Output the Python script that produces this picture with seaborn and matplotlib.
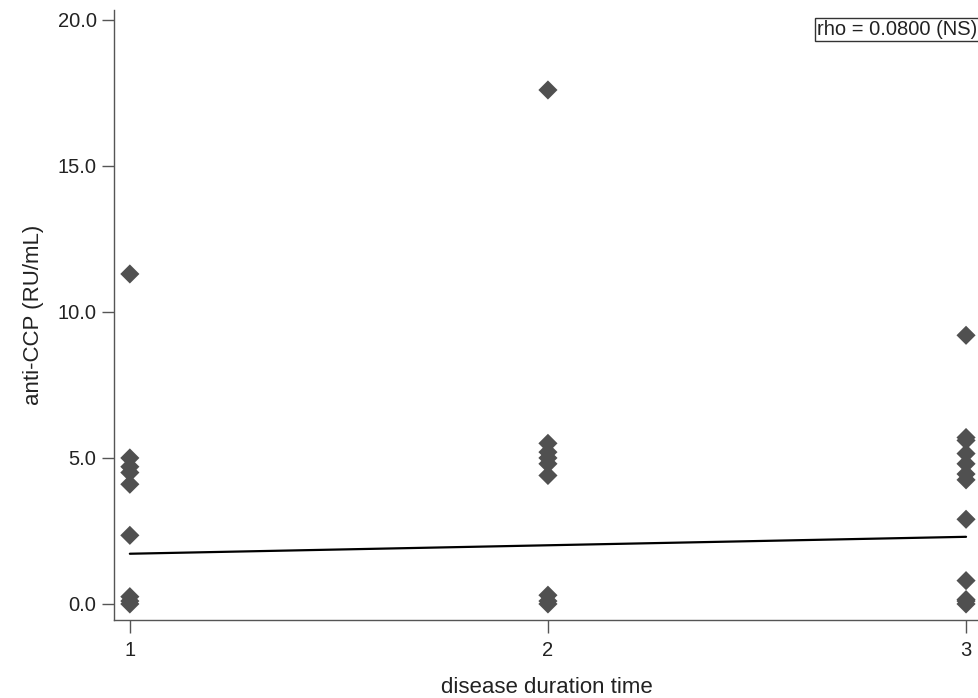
import numpy as np
import pandas as pd
import matplotlib
matplotlib.use("Agg")
import matplotlib.pyplot as plt
import seaborn as sns

# valores
dur_1 = [11.3, 5.0, 4.7, 4.5, 4.1, 2.35, 0.25, 0.1, 0.0]
dur_2 = [17.6, 5.5, 5.2, 5.0, 4.8, 4.4, 0.3, 0.1, 0.0]
dur_3 = [9.2, 5.7, 5.6, 5.15, 4.8, 4.45, 4.25, 2.9, 0.8, 0.15, 0.1, 0.0]

# recta de ajuste mostrada en la figura
fit_x = [1, 3]
fit_y = [1.72, 2.30]

x_ticks = [1, 2, 3]
y_ticks = [0, 5, 10, 15, 20]
rho_txt = "rho = 0.0800 (NS)"

base = pd.DataFrame({
    "duration": [1] * len(dur_1) + [2] * len(dur_2) + [3] * len(dur_3),
    "accp": dur_1 + dur_2 + dur_3,
})
fit = pd.DataFrame({"duration": fit_x, "accp": fit_y})

sns.set_style("ticks")
plt.rcParams["font.family"] = ["Liberation Sans", "DejaVu Sans"]

fig = plt.figure(figsize=(9.79, 6.98), dpi=100)
ax = fig.add_axes([0.1164, 0.1117, 0.8836, 0.874])

sns.scatterplot(data=base, x="duration", y="accp", marker="D", s=95,
                color="#505050", edgecolor="none", ax=ax, zorder=3)
sns.lineplot(data=fit, x="duration", y="accp", color="black", linewidth=1.6,
             ax=ax, zorder=2)

ax.set_xlim(0.962, 3.031)
ax.set_ylim(-0.55, 20.34)
ax.set_xticks(x_ticks)
ax.set_xticklabels([str(t) for t in x_ticks])
ax.set_yticks(y_ticks)
ax.set_yticklabels(["%.1f" % t for t in y_ticks])

for side in ["top", "right"]:
    ax.spines[side].set_visible(False)
for side in ["left", "bottom"]:
    ax.spines[side].set_color("#555555")
    ax.spines[side].set_linewidth(1.0)
ax.tick_params(axis="both", direction="out", length=9, width=1.0,
               color="#555555", labelsize=14.5, labelcolor="#222222")
ax.tick_params(axis="x", pad=6)

ax.set_xlabel("disease duration time", fontsize=16, color="#222222", labelpad=12)
ax.set_ylabel("anti-CCP (RU/mL)", fontsize=16, color="#222222", labelpad=10)

ax.text(0.9975, 0.983, rho_txt, transform=ax.transAxes, ha="right", va="top",
        fontsize=14.5, color="#222222",
        bbox=dict(boxstyle="square,pad=0.1", facecolor="white",
                  edgecolor="#333333", linewidth=1.0))

fig.savefig("out.png", dpi=100)
